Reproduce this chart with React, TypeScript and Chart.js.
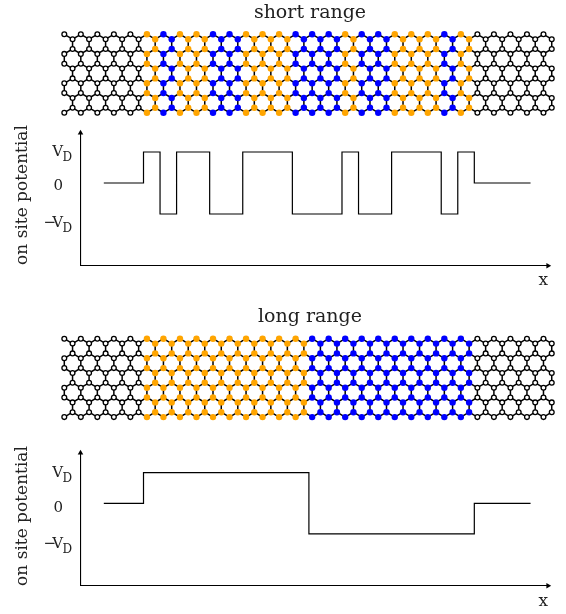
import React, { useEffect, useRef } from "react";
import { Chart, registerables } from "chart.js";

Chart.register(...registerables);

const SERIF = "'DejaVu Serif', serif";
const INK = "#222222";

// honeycomb ribbon, in lattice units
const rowLevels = [0, 0.5, 1.5, 2, 3, 3.5, 4.5, 5, 6, 6.5, 7.5, 8];
const rowShifts = [0, 0.5, 0.5, 0, 0, 0.5, 0.5, 0, 0, 0.5, 0.5, 0];

// sublattice cell potential: 0 neutral, 1 = +V_D, -1 = -V_D
const shortRangeSites = [0, 0, 0, 0, 0, 1, -1, 1, 1, -1, -1, 1, 1, 1, -1, -1, -1, 1, -1, -1, 1, 1, 1, -1, 1, 0, 0, 0, 0, 0];
const longRangeSites = [0, 0, 0, 0, 0, 1, 1, 1, 1, 1, 1, 1, 1, 1, 1, -1, -1, -1, -1, -1, -1, -1, -1, -1, -1, 0, 0, 0, 0, 0];

const titles = ["short range", "long range"];
const yAxisTitle = "on site potential";
const tickLabels = ["V_D", "0", "\u2212V_D"];
const shortTickPlaces = [1, -0.11, -1.3];
const longTickPlaces = [1, -0.15, -1.33];
const potentialSpan = [2.6, 28.4];

const COLORS: Record<string, string> = { "1": "#ffa500", "-1": "#0000ff" };

function latticeSites(sites: number[]) {
  const pts: { x: number; y: number; v: number }[] = [];
  rowLevels.forEach((y, r) => sites.forEach((v, k) => pts.push({ x: k + rowShifts[r], y, v })));
  return pts;
}

function latticeBonds(n: number) {
  const b: { x: number; y: number }[] = [];
  const gap = () => b.push({ x: NaN, y: NaN });
  for (let r = 0; r < rowLevels.length - 1; r++) {
    const s0 = rowShifts[r], s1 = rowShifts[r + 1];
    for (let k = 0; k < n; k++) {
      b.push({ x: k + s0, y: rowLevels[r] }, { x: k + s1, y: rowLevels[r + 1] });
      gap();
      if (s0 !== s1) {
        const other = s0 > s1 ? k + 1 : k - 1;
        if (other >= 0 && other < n) {
          b.push({ x: k + s0, y: rowLevels[r] }, { x: other + s1, y: rowLevels[r + 1] });
          gap();
        }
      }
    }
  }
  return b;
}

function potentialLine(sites: number[]) {
  const pts = [{ x: potentialSpan[0], y: sites[0] }];
  for (let k = 1; k < sites.length; k++) {
    if (sites[k] !== sites[k - 1]) pts.push({ x: k, y: sites[k] });
  }
  pts.push({ x: potentialSpan[1], y: sites[sites.length - 1] });
  return pts;
}

function makeLattice(canvas: HTMLCanvasElement, sites: number[], title: string, chartTop: number, padBottom: number) {
  const pts = latticeSites(sites);
  const atom = (v: number) => pts.filter((p) => p.v === v);
  const filled = (v: number) => ({
    data: atom(v),
    pointRadius: 3.2,
    pointBackgroundColor: COLORS[String(v)],
    pointBorderWidth: 0,
    clip: false as const,
    order: 1,
  });
  return new Chart(canvas, {
    type: "scatter",
    data: {
      datasets: [
        {
          data: latticeBonds(sites.length),
          showLine: true,
          spanGaps: false,
          pointRadius: 0,
          borderColor: "#000",
          borderWidth: 1.5,
          clip: false as const,
          order: 2,
        },
        {
          data: atom(0),
          pointRadius: 2.4,
          pointBackgroundColor: "#fff",
          pointBorderColor: "#000",
          pointBorderWidth: 1.3,
          clip: false as const,
          order: 1,
        },
        filled(1),
        filled(-1),
      ],
    },
    options: {
      responsive: false,
      animation: false,
      devicePixelRatio: 1,
      layout: { autoPadding: false, padding: { left: 60, right: 6, top: 0, bottom: padBottom } },
      plugins: {
        legend: { display: false },
        tooltip: { enabled: false },
        title: {
          display: true,
          text: title,
          fullSize: false,
          color: INK,
          font: { family: SERIF, size: 19, weight: "normal", lineHeight: 1.2 },
          padding: { top: 1.5, bottom: chartTop - 24.3 },
        },
      },
      scales: {
        x: { type: "linear", display: false, min: -0.26, max: 30 },
        y: { type: "linear", display: false, reverse: true, min: -1, max: 9 },
      },
    },
  } as any);
}

const axisTextPlugin = {
  id: "axisText",
  afterDraw(chart: any, _a: any, opts: any) {
    const { ctx, scales } = chart;
    ctx.save();
    ctx.fillStyle = INK;
    ctx.textBaseline = "middle";
    tickLabels.forEach((label, i) => {
      const y = scales.y.getPixelForValue(opts.places[i]);
      const [head, sub] = label.split("_");
      ctx.font = `15px ${SERIF}`;
      ctx.textAlign = "right";
      if (head.length > 1) {
        ctx.letterSpacing = "-4px";
        ctx.fillText(head, 59, y);
        ctx.letterSpacing = "0px";
      } else {
        ctx.fillText(head, 63, y);
      }
      if (sub) {
        ctx.font = `12px ${SERIF}`;
        ctx.textAlign = "left";
        ctx.fillText(sub, 62.5, y + 6);
      }
    });
    ctx.translate(22.7, opts.titleCenter);
    ctx.rotate(-Math.PI / 2);
    ctx.textAlign = "center";
    ctx.font = `17px ${SERIF}`;
    ctx.fillText(yAxisTitle, 0, 0);
    ctx.restore();
  },
};

function makePotential(canvas: HTMLCanvasElement, sites: number[], places: number[], yMin: number, yMax: number, padTop: number, xBand: number, titleCenter: number, xTitlePad: number) {
  const xMin = 1.191;
  const xMax = 29.455;
  return new Chart(canvas, {
    type: "scatter",
    data: {
      datasets: [
        {
          data: potentialLine(sites),
          showLine: true,
          stepped: "before",
          pointRadius: 0,
          borderColor: "#000",
          borderWidth: 1.2,
          clip: false as const,
        },
        {
          data: [{ x: xMin, y: yMax }],
          pointStyle: "triangle",
          pointRadius: 3.2,
          rotation: 0,
          pointBackgroundColor: "#000",
          pointBorderWidth: 0,
          clip: false as const,
        },
        {
          data: [{ x: xMax, y: yMin }],
          pointStyle: "triangle",
          pointRadius: 3.2,
          rotation: 90,
          pointBackgroundColor: "#000",
          pointBorderWidth: 0,
          clip: false as const,
        },
      ],
    },
    options: {
      responsive: false,
      animation: false,
      devicePixelRatio: 1,
      layout: { autoPadding: false, padding: { left: 0, right: 18, top: padTop, bottom: 0 } },
      plugins: {
        legend: { display: false },
        tooltip: { enabled: false },
        axisText: { places, titleCenter },
      },
      scales: {
        x: {
          type: "linear",
          min: xMin,
          max: xMax,
          grid: { display: false },
          border: { display: true, color: "#000", width: 1.1 },
          ticks: { display: false },
          title: {
            display: true,
            text: "x",
            align: "end",
            color: INK,
            font: { family: SERIF, size: 17, weight: "normal", lineHeight: 1.2 },
            padding: { top: 5, bottom: xTitlePad },
          },
          afterFit(s: any) { s.height = xBand; },
        },
        y: {
          type: "linear",
          min: yMin,
          max: yMax,
          grid: { display: false },
          border: { display: true, color: "#000", width: 1.1 },
          ticks: { display: false },
          afterFit(s: any) { s.width = 80.5; },
        },
      },
    },
    plugins: [axisTextPlugin],
  } as any);
}

const canvasStyle = (top: number): React.CSSProperties => ({ position: "absolute", left: 0, top, display: "block" });

export default function App() {
  const a = useRef<HTMLCanvasElement>(null);
  const b = useRef<HTMLCanvasElement>(null);
  const c = useRef<HTMLCanvasElement>(null);
  const d = useRef<HTMLCanvasElement>(null);
  useEffect(() => {
    const charts = [
      makeLattice(a.current!, shortRangeSites, titles[0], 24.5, 1.5),
      makePotential(b.current!, shortRangeSites, shortTickPlaces, -2.668, 1.613, 11, 26.3, 73, 1),
      makeLattice(c.current!, longRangeSites, titles[1], 24.9, 1.1),
      makePotential(d.current!, longRangeSites, longTickPlaces, -2.688, 1.641, 13, 28.3, 76, 2),
    ];
    return () => charts.forEach((ch) => ch.destroy());
  }, []);
  return (
    <div style={{ position: "absolute", left: 0, top: 0, width: 566, height: 614, overflow: "hidden", background: "#fff" }}>
      <canvas ref={a} width={566} height={124} style={canvasStyle(0)} />
      <canvas ref={b} width={566} height={170} style={canvasStyle(122)} />
      <canvas ref={c} width={566} height={124} style={canvasStyle(304)} />
      <canvas ref={d} width={566} height={174} style={canvasStyle(440)} />
    </div>
  );
}
